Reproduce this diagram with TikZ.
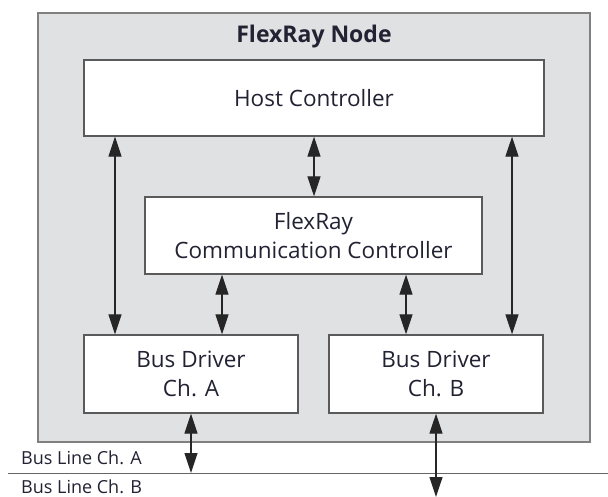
\documentclass[tikz,border=0pt]{standalone}
\usepackage{fontspec}
\setmainfont{Open Sans}
\usetikzlibrary{arrows.meta}
\definecolor{nodegray}{HTML}{E0E1E3}
\definecolor{edge}{HTML}{5A5A5A}
\definecolor{txt}{HTML}{222233}
\tikzset{
  blk/.style={draw=edge, line width=1.4pt, fill=white, inner sep=0pt, text=txt, font=\fontsize{22.5}{29}\selectfont, align=center},
  link/.style={line width=1.2pt, draw=black!85, {Triangle[length=20pt,width=13pt]}-{Triangle[length=20pt,width=13pt]}},
  lbl/.style={text=txt, font=\fontsize{18}{21}\selectfont, anchor=west, inner sep=0pt}
}
\begin{document}
\begin{tikzpicture}[x=1pt,y=-1pt]
\useasboundingbox (0,0) rectangle (608,497);
\node[draw=black!50, line width=1.6pt, fill=nodegray, minimum width=552pt, minimum height=429pt, inner sep=0pt] (outer) at (314,227.5) {};
\node[text=txt, font=\bfseries\fontsize{23}{28}\selectfont] (title) at (314,37) {FlexRay Node};
\node[blk, minimum width=460pt, minimum height=76pt] (host) at (314,98) {Host Controller};
\node[blk, minimum width=337pt, minimum height=77pt] (cc) at (313.5,235.5) {FlexRay\\Communication Controller};
\node[blk, minimum width=214pt, minimum height=78pt] (bda) at (191,374) {Bus Driver\\Ch. A};
\node[blk, minimum width=214pt, minimum height=78pt] (bdb) at (436,374) {Bus Driver\\Ch. B};
\coordinate (lineL) at (8,473);
\coordinate (lineR) at (608,473);
\draw[line width=1pt, draw=black!60] (lineL) -- (lineR);
\coordinate (busA) at (191,473);
\coordinate (busB) at (436,497);
\draw[link] (host.south -| 115,0) -- (bda.north -| 115,0);
\draw[link] (host.south -| 314,0) -- (cc.north -| 314,0);
\draw[link] (host.south -| 512,0) -- (bdb.north -| 512,0);
\draw[link] (cc.south -| 222,0) -- (bda.north -| 222,0);
\draw[link] (cc.south -| 406,0) -- (bdb.north -| 406,0);
\draw[link] (bda.south) -- (busA);
\draw[link] (bdb.south) -- (busB);
\node[lbl] (la) at (21,458) {Bus Line Ch. A};
\node[lbl] (lb) at (21,487) {Bus Line Ch. B};
\end{tikzpicture}
\end{document}
